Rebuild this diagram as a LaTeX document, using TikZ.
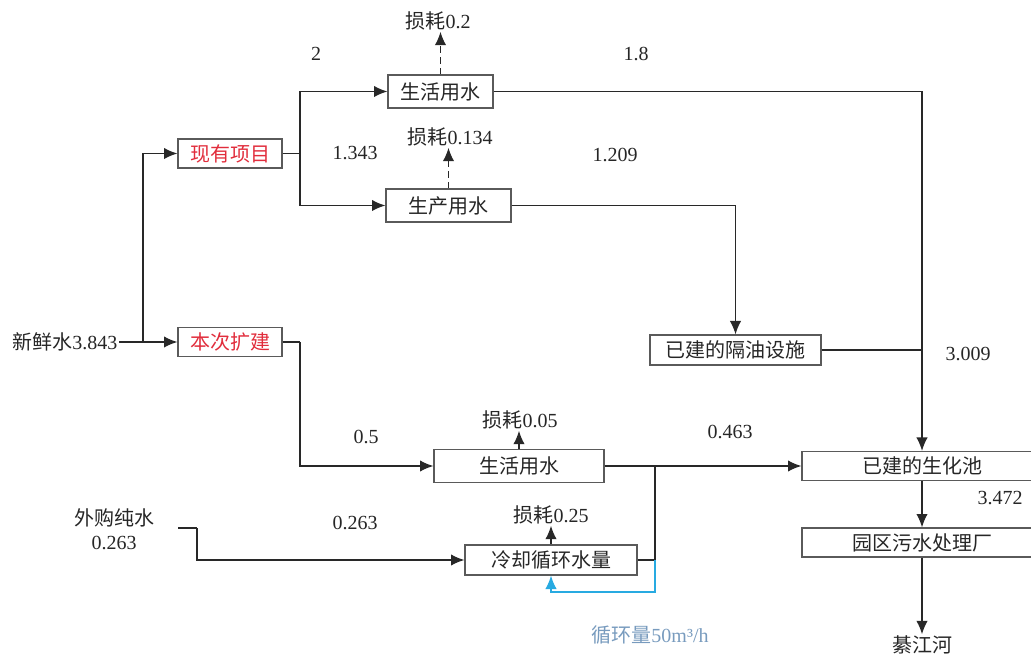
\documentclass[tikz,border=0pt]{standalone}
\usepackage{fontspec}
\setmainfont{Liberation Serif}
\newfontfamily\cjk{Noto Sans CJK SC}
\usetikzlibrary{arrows.meta}
\definecolor{boxline}{RGB}{90,90,90}
\definecolor{conline}{RGB}{40,40,40}
\definecolor{redtxt}{RGB}{225,45,60}
\definecolor{cyanline}{RGB}{40,170,225}
\definecolor{bluetxt}{RGB}{120,155,190}
\tikzset{
  box/.style={draw=boxline, line width=1pt, inner sep=0pt, text=black!85},
  lbl/.style={inner sep=1pt, text=black!85},
  arr/.style={draw=conline, line width=0.9pt, -{Latex[length=10pt,width=8.5pt]}},
  con/.style={draw=conline, line width=0.9pt},
  dasharr/.style={arr, dash pattern=on 5pt off 3pt},
  cycarr/.style={draw=cyanline, line width=0.9pt, -{Latex[length=10pt,width=8.5pt]}},
}
\begin{document}
\begin{tikzpicture}[x=0.75pt, y=-0.75pt, font=\fontsize{15}{18}\selectfont]
\useasboundingbox (0,0) rectangle (1031,655);
% boxes
\node[box, minimum width=78pt, minimum height=21.75pt, text=redtxt] (xy) at (230,153.5) {\cjk 现有项目};
\node[box, minimum width=78pt, minimum height=21.75pt, text=redtxt] (bc) at (230,342) {\cjk 本次扩建};
\node[box, minimum width=78.75pt, minimum height=24.75pt] (sh1) at (440.5,91.5) {\cjk 生活用水};
\node[box, minimum width=93.75pt, minimum height=24.75pt] (sc) at (448.5,205.5) {\cjk 生产用水};
\node[box, minimum width=128.25pt, minimum height=22.5pt] (gy) at (735.5,350) {\cjk 已建的隔油设施};
\node[box, minimum width=127.5pt, minimum height=24.75pt] (sh2) at (519,466) {\cjk 生活用水};
\node[box, minimum width=129pt, minimum height=22.5pt] (lq) at (551,560) {\cjk 冷却循环水量};
\node[box, minimum width=180pt, minimum height=21.75pt] (shc) at (922,466) {\cjk 已建的生化池};
\node[box, minimum width=180pt, minimum height=21.75pt] (yq) at (922,542.5) {\cjk 园区污水处理厂};
% plain texts
\node[lbl, anchor=east] (fresh) at (119,342) {{\cjk 新鲜水}3.843};
\node[lbl, align=center] (wg) at (114,529) {{\cjk 外购纯水}\\0.263};
\node[lbl] (qjh) at (922,645) {\cjk 綦江河};
\node[lbl] (l1) at (438,21) {{\cjk 损耗}0.2};
\node[lbl] (l2) at (450,137) {{\cjk 损耗}0.134};
\node[lbl] (l3) at (520,420) {{\cjk 损耗}0.05};
\node[lbl] (l4) at (551,515) {{\cjk 损耗}0.25};
\node[lbl, text=bluetxt] (cyc) at (650,635) {{\cjk 循环量}50m³/h};
% number labels
\node[lbl] (n2) at (316,54) {2};
\node[lbl] (n1343) at (355,153) {1.343};
\node[lbl] (n18) at (636,54) {1.8};
\node[lbl] (n1209) at (615,155) {1.209};
\node[lbl] (n3009) at (968,354) {3.009};
\node[lbl] (n05) at (366,437) {0.5};
\node[lbl] (n0463) at (730,432) {0.463};
\node[lbl] (n3472) at (1000,498) {3.472};
\node[lbl] (n0263) at (355,523) {0.263};
% junction coordinates
\coordinate (j1) at (143,342);
\coordinate (j2) at (300,153.5);
\coordinate (j3) at (300,342);
\coordinate (j4) at (655,466);
\coordinate (j5) at (655,592);
\coordinate (wgout) at (178,528);
\coordinate (wgbend) at (197,528);
% connectors
\draw[arr] (fresh.east) -- (bc.west);
\draw[arr] (j1) |- (xy.west);
\draw[con] (xy.east) -- (j2);
\draw[arr] (j2) |- (sh1.west);
\draw[arr] (j2) |- (sc.west);
\draw[arr] (sh1.east) -| (shc.north);
\draw[arr] (sc.east) -| (gy.north);
\draw[con] (gy.east) -- (gy.east -| shc.north);
\draw[con] (bc.east) -- (j3);
\draw[arr] (j3) |- (sh2.west);
\draw[arr] (sh2.east) -- (shc.west);
\draw[con] (lq.east) -| (j4);
\draw[cycarr] (j4 |- lq.east) -- (j5) -| (lq.south);
\draw[con] (wgout) -- (wgbend);
\draw[arr] (wgbend) |- (lq.west);
\draw[arr] (shc.south) -- (yq.north);
\draw[arr] (yq.south) -- (qjh.north);
% losses
\draw[dasharr] (sh1.north) -- (sh1.north |- l1.south);
\draw[dasharr] (sc.north) -- (sc.north |- l2.south);
\draw[arr] (sh2.north) -- (sh2.north |- l3.south);
\draw[arr] (lq.north) -- (lq.north |- l4.south);
\end{tikzpicture}
\end{document}
